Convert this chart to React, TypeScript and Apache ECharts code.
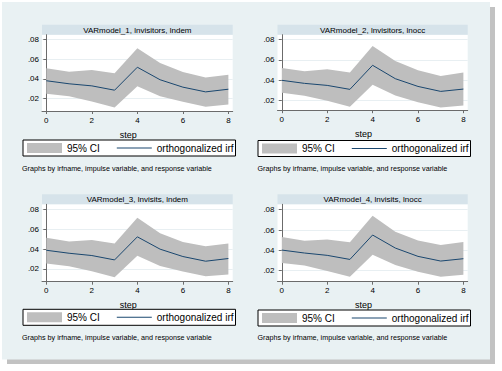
import { useEffect, useRef } from "react";
import * as echarts from "echarts";

// ---------- data ----------
const steps = [0, 1, 2, 3, 4, 5, 6, 7, 8];

const irf1 = [0.0382, 0.0351, 0.033, 0.0286, 0.0519, 0.0392, 0.0317, 0.0269, 0.0296];
const lo1 = [0.0251, 0.0224, 0.0172, 0.0111, 0.0327, 0.0224, 0.0169, 0.0118, 0.0142];
const hi1 = [0.0509, 0.0474, 0.0491, 0.0457, 0.0711, 0.0563, 0.0471, 0.0416, 0.0443];

const irf2 = [0.0398, 0.0368, 0.0348, 0.0309, 0.0546, 0.0414, 0.0338, 0.0289, 0.0312];
const lo2 = [0.0276, 0.0246, 0.0197, 0.0137, 0.0355, 0.0249, 0.0183, 0.0131, 0.0151];
const hi2 = [0.052, 0.0487, 0.0507, 0.0474, 0.0737, 0.0589, 0.0497, 0.0441, 0.0474];

const irf3 = [0.0388, 0.0358, 0.0335, 0.0291, 0.0523, 0.0399, 0.0325, 0.0278, 0.0305];
const lo3 = [0.0255, 0.0228, 0.0178, 0.0117, 0.0332, 0.0231, 0.0174, 0.0127, 0.0144];
const hi3 = [0.0515, 0.0475, 0.0492, 0.0455, 0.0716, 0.0559, 0.0472, 0.0428, 0.0455];

const irf4 = [0.0403, 0.0374, 0.0351, 0.0311, 0.0551, 0.0423, 0.0341, 0.0295, 0.0318];
const lo4 = [0.0275, 0.0252, 0.0196, 0.0141, 0.0357, 0.0255, 0.019, 0.0141, 0.016];
const hi4 = [0.0531, 0.0495, 0.0508, 0.0479, 0.0741, 0.0584, 0.0498, 0.0452, 0.0482];

const panelTitles = [
  "VARmodel_1, lnvisitors, lndem",
  "VARmodel_2, lnvisitors, lnocc",
  "VARmodel_3, lnvisits, lndem",
  "VARmodel_4, lnvisits, lnocc",
];
const yTicks = [0.02, 0.04, 0.06, 0.08];
const xTicks = [0, 2, 4, 6, 8];
const ciName = "95% CI";
const irfName = "orthogonalized irf";
const xTitle = "step";
const noteText = "Graphs by irfname, impulse variable, and response variable";

// axis ranges (per panel)
const yMins = [0.0075, 0.0104, 0.0072, 0.0092];
const yMaxs = [0.0849, 0.0847, 0.085, 0.0853];
const xMin = -0.19;
const xMax = 8.19;

// ---------- layout / style ----------
const FONT = "'Liberation Sans', Arial, Helvetica, sans-serif";
const NAVY = "#1a476f";
const CI_GRAY = "#bebebe";
const AXIS = "#6b6b6b";
const BG = "#e9f1f3";
const TITLE_BG = "#d6e3ea";
const GRIDLINE = "#e8eff2";

const layout = [
  { left: 42, top: 34.7, width: 190.7, height: 76.3, titleTop: 24.7, legLeft: 23, legTop: 140, noteX: 22, noteY: 168 },
  { left: 277.5, top: 34.7, width: 190.2, height: 75.5, titleTop: 24.7, legLeft: 258, legTop: 140.5, noteX: 257.5, noteY: 168 },
  { left: 42, top: 204.3, width: 190.7, height: 77.4, titleTop: 194.3, legLeft: 23, legTop: 309.3, noteX: 22, noteY: 337.7 },
  { left: 277.5, top: 204.3, width: 190.2, height: 77.4, titleTop: 194.3, legLeft: 258, legTop: 310, noteX: 257.5, noteY: 337.7 },
];

export default function App() {
  const ref = useRef<HTMLDivElement>(null);

  useEffect(() => {
    if (!ref.current) return;
    const chart = echarts.init(ref.current, null, { renderer: "svg" });

    const irfs = [irf1, irf2, irf3, irf4];
    const los = [lo1, lo2, lo3, lo4];
    const his = [hi1, hi2, hi3, hi4];

    const grids: any[] = [];
    const xAxes: any[] = [];
    const yAxes: any[] = [];
    const series: any[] = [];
    const legends: any[] = [];
    const elements: any[] = [
      { type: "rect", z: -20, silent: true, shape: { x: 7, y: 7, width: 488, height: 357 }, style: { fill: "#c2c2c2" } },
      { type: "rect", z: -19, silent: true, shape: { x: 2, y: 2, width: 488, height: 357.5 }, style: { fill: BG } },
    ];

    for (let i = 0; i < 4; i++) {
      const L = layout[i];
      const lo = los[i];
      const hi = his[i];
      grids.push({
        left: L.left,
        top: L.top,
        width: L.width,
        height: L.height,
        show: true,
        backgroundColor: "#ffffff",
        borderWidth: 0,
      });
      xAxes.push({
        gridIndex: i,
        type: "value",
        min: xMin,
        max: xMax,
        axisLine: { show: true, onZero: false, lineStyle: { color: AXIS, width: 1 } },
        axisTick: { show: true, length: 3, customValues: xTicks, lineStyle: { color: AXIS } },
        axisLabel: { customValues: xTicks, fontSize: 8, margin: 5, color: "#000", fontFamily: FONT },
        splitLine: { show: false },
        name: xTitle,
        nameLocation: "middle",
        nameGap: 19,
        nameTextStyle: { fontSize: 9, color: "#000", fontFamily: FONT, padding: [0, 18, 0, 0] },
      });
      yAxes.push({
        gridIndex: i,
        type: "value",
        min: yMins[i],
        max: yMaxs[i],
        axisLine: { show: true, lineStyle: { color: AXIS, width: 1 } },
        axisTick: { show: true, length: 3, customValues: yTicks, lineStyle: { color: AXIS } },
        axisLabel: {
          customValues: yTicks,
          fontSize: 8,
          margin: 3,
          color: "#000",
          fontFamily: FONT,
          formatter: (v: number) => v.toFixed(2).replace(/^0/, ""),
        },
        splitLine: { show: true, lineStyle: { color: GRIDLINE, width: 1 } },
      });

      // confidence band: one polygon built from the lower/upper arrays via the axes' scales
      series.push({
        type: "custom",
        name: ciName,
        xAxisIndex: i,
        yAxisIndex: i,
        silent: true,
        itemStyle: { color: CI_GRAY },
        encode: { x: 0, y: [1, 2] },
        data: steps.map((s, k) => [s, lo[k], hi[k]]),
        renderItem: (params: any, api: any) => {
          if (params.dataIndex !== 0) return null;
          const pts: number[][] = [];
          for (let k = 0; k < steps.length; k++) pts.push(api.coord([steps[k], hi[k]]));
          for (let k = steps.length - 1; k >= 0; k--) pts.push(api.coord([steps[k], lo[k]]));
          return {
            type: "polygon",
            shape: { points: pts },
            style: { fill: CI_GRAY, stroke: "none" },
          };
        },
      });
      series.push({
        type: "line",
        name: irfName,
        xAxisIndex: i,
        yAxisIndex: i,
        symbol: "none",
        silent: true,
        z: 3,
        itemStyle: { color: NAVY },
        lineStyle: { color: NAVY, width: 1 },
        data: steps.map((s, k) => [s, irfs[i][k]]),
      });

      legends.push({
        left: L.legLeft,
        top: L.legTop,
        orient: "horizontal",
        padding: [3, 2, 3, 4],
        itemGap: 17,
        itemWidth: 35,
        itemHeight: 10,
        borderColor: "#000",
        borderWidth: 1,
        borderRadius: 0,
        backgroundColor: "#ffffff",
        selectedMode: false,
        textStyle: { fontSize: 10, color: "#000", fontFamily: FONT },
        data: [
          { name: ciName, icon: "rect", itemStyle: { color: CI_GRAY } },
          { name: irfName, icon: "path://M0,0H35V1H0Z", itemStyle: { color: NAVY } },
        ],
      });

      // title bar
      elements.push({
        type: "rect",
        silent: true,
        shape: { x: L.left, y: L.titleTop, width: L.width, height: L.top - L.titleTop },
        style: { fill: TITLE_BG },
      });
      elements.push({
        type: "text",
        silent: true,
        x: L.left + L.width / 2,
        y: (L.titleTop + L.top) / 2 + 0.5,
        style: {
          text: panelTitles[i],
          fontSize: 8,
          fontFamily: FONT,
          fill: "#000",
          align: "center",
          verticalAlign: "middle",
          textAlign: "center",
          textVerticalAlign: "middle",
        },
      });
      // note
      elements.push({
        type: "text",
        silent: true,
        x: L.noteX,
        y: L.noteY,
        style: {
          text: noteText,
          fontSize: 7.2,
          fontFamily: FONT,
          fill: "#000",
          align: "left",
          verticalAlign: "middle",
          textAlign: "left",
          textVerticalAlign: "middle",
        },
      });
    }

    chart.setOption({
      animation: false,
      grid: grids,
      xAxis: xAxes,
      yAxis: yAxes,
      series,
      legend: legends,
      graphic: { elements },
    });

    return () => chart.dispose();
  }, []);

  return (
    <div
      ref={ref}
      style={{ position: "fixed", left: 0, top: 0, width: 502, height: 371, background: "#ffffff" }}
    />
  );
}
